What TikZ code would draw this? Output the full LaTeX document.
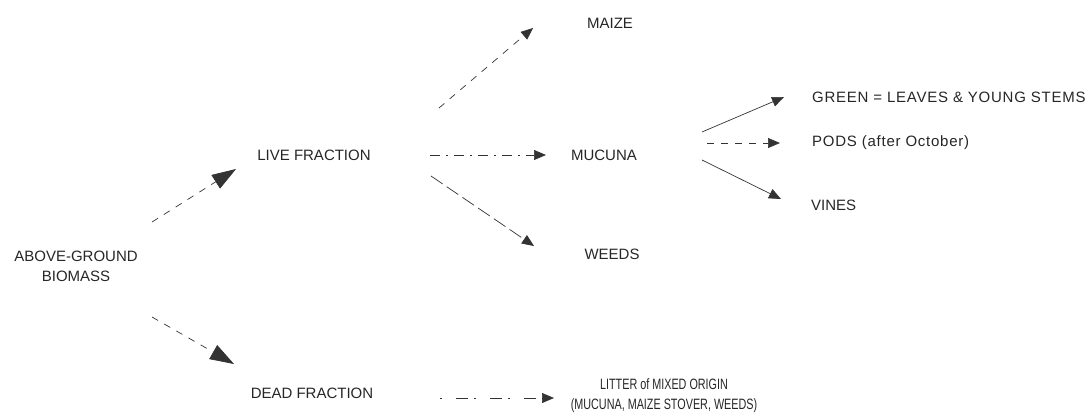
\documentclass[tikz,border=0pt]{standalone}
\usepackage{fontspec}
\setmainfont{Liberation Sans}
\newfontfamily\narrowfont[FakeStretch=0.72]{Liberation Sans}
\usetikzlibrary{arrows.meta}
\tikzset{
  lbl/.style={font=\fontsize{15}{20}\selectfont, inner sep=0pt, text=black!85},
  conn/.style={line width=0.7pt, black!80},
  bigtip/.style={-{Triangle[length=24pt,width=16pt]}},
  smalltip/.style={-{Triangle[length=12pt,width=10pt]}},
  dsh/.style={dash pattern=on 7pt off 7pt}
}
\begin{document}
\begin{tikzpicture}[x=1pt,y=-1pt]
\useasboundingbox (0,0) rectangle (1092,416);
% nodes
\node[lbl, align=center] (ag) at (76,266) {ABOVE-GROUND\\BIOMASS};
\node[lbl] (live) at (314,155) {LIVE FRACTION};
\node[lbl] (dead) at (312,393) {DEAD FRACTION};
\node[lbl] (maize) at (610,23) {MAIZE};
\node[lbl] (mucuna) at (604,155) {MUCUNA};
\node[lbl] (weeds) at (612,254) {WEEDS};
\node[lbl, anchor=west] (green) at (812,97) {\addfontfeature{LetterSpace=5}GREEN = LEAVES \& YOUNG STEMS};
\node[lbl, anchor=west] (pods) at (812,143) {\addfontfeature{LetterSpace=5}PODS (after October)};
\node[lbl, anchor=west] (vines) at (811,205) {VINES};
\node[lbl, align=center, font=\narrowfont\fontsize{15}{20}\selectfont] (litter) at (664,396) {LITTER of MIXED ORIGIN\\(MUCUNA, MAIZE STOVER, WEEDS)};
% connector end points
\coordinate (a1) at (152,222); \coordinate (a2) at (236,169);
\coordinate (b1) at (152,317); \coordinate (b2) at (234,364);
\coordinate (c1) at (439,108); \coordinate (c2) at (533,28);
\coordinate (d1) at (430,155); \coordinate (d2) at (546,155);
\coordinate (e1) at (431,176); \coordinate (e2) at (534,246);
\coordinate (f1) at (702,132); \coordinate (f2) at (784,97);
\coordinate (g1) at (707,143); \coordinate (g2) at (780,143);
\coordinate (h1) at (702,160); \coordinate (h2) at (781,199);
\coordinate (i1) at (440,398); \coordinate (i2) at (554,398);
% connectors
\draw[conn, dsh, bigtip] (a1) -- (a2);
\draw[conn, dsh, bigtip] (b1) -- (b2);
\draw[conn, dsh, smalltip] (c1) -- (c2);
\draw[conn, dash pattern=on 10pt off 6pt on 2pt off 6pt, smalltip] (d1) -- (d2);
\draw[conn, dash pattern=on 14pt off 5pt, smalltip] (e1) -- (e2);
\draw[conn, smalltip] (f1) -- (f2);
\draw[conn, dsh, smalltip] (g1) -- (g2);
\draw[conn, smalltip] (h1) -- (h2);
\draw[conn, dash pattern=on 2pt off 14pt on 12pt off 6pt, smalltip] (i1) -- (i2);
\end{tikzpicture}
\end{document}
